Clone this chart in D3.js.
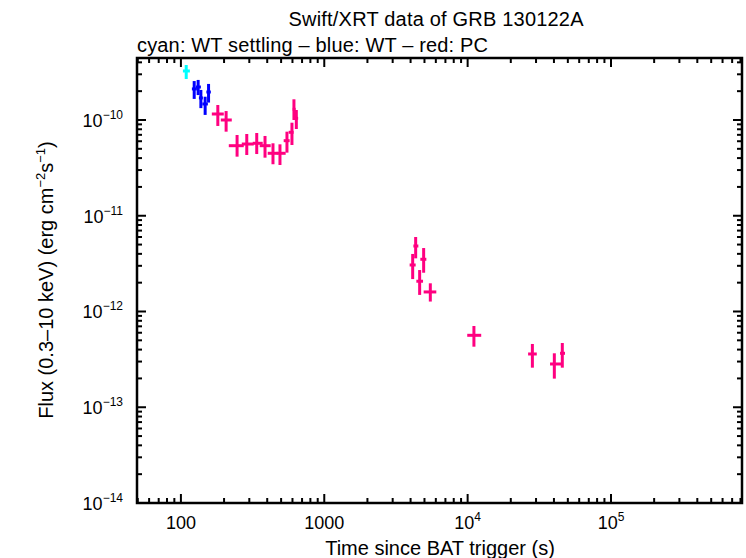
<!DOCTYPE html>
<html>
<head>
<meta charset="utf-8">
<script src="https://cdn.jsdelivr.net/npm/d3@7"></script>
<style>
  body { margin: 0; background: #fff; }
  text { font-family: "Liberation Sans", Arial, Helvetica, sans-serif; }
</style>
</head>
<body>
<svg width="746" height="558"></svg>
<script>
// data: [time, tLow, tHigh, flux, fLow, fHigh]
const wtSettling = [
  [108.9, 103.3, 115.5, 3.25e-10, 2.68e-10, 3.75e-10]
];
const wt = [
  [123.8, 119.3, 129.2, 2.11e-10, 1.66e-10, 2.55e-10],
  [131.9, 127.2, 137.8, 2.21e-10, 1.82e-10, 2.62e-10],
  [137.8, 133.5, 142.3, 1.70e-10, 1.33e-10, 2.06e-10],
  [147.6, 141.1, 154.2, 1.47e-10, 1.13e-10, 1.75e-10],
  [155.9, 150.5, 161.7, 1.96e-10, 1.52e-10, 2.38e-10]
];
const pc = [
  [180.9, 164.3, 199.1, 1.155e-10, 8.66e-11, 1.435e-10],
  [206.7, 189.8, 226.4, 1.0e-10, 7.55e-11, 1.24e-10],
  [246.5, 215.8, 274.4, 5.39e-11, 4.14e-11, 6.97e-11],
  [288.0, 265.8, 322.1, 5.61e-11, 4.31e-11, 7.14e-11],
  [338.0, 316.9, 372.1, 5.71e-11, 4.41e-11, 7.31e-11],
  [386.1, 354.6, 423.0, 5.39e-11, 4.04e-11, 6.81e-11],
  [438.8, 403.2, 473.2, 4.49e-11, 3.45e-11, 5.71e-11],
  [490.9, 465.6, 537.9, 4.49e-11, 3.39e-11, 5.57e-11],
  [549.2, 521.1, 573.5, 6.08e-11, 4.56e-11, 7.55e-11],
  [595.1, 564.4, 611.6, 7.44e-11, 5.48e-11, 9.37e-11],
  [614.4, 601.8, 631.4, 1.293e-10, 1.0e-10, 1.645e-10],
  [638.4, 621.3, 657.2, 1.042e-10, 8.05e-11, 1.272e-10],
  [4137, 3940, 4340, 3.06e-12, 2.18e-12, 3.99e-12],
  [4340, 4183, 4531, 4.83e-12, 3.59e-12, 6.0e-12],
  [4627, 4388, 4886, 2.07e-12, 1.49e-12, 2.71e-12],
  [4934, 4679, 5152, 3.51e-12, 2.54e-12, 4.60e-12],
  [5492, 4934, 6046, 1.60e-12, 1.27e-12, 1.97e-12],
  [11063, 9936, 12437, 5.64e-13, 4.29e-13, 7.06e-13],
  [28290, 26410, 30360, 3.60e-13, 2.59e-13, 4.58e-13],
  [40250, 37570, 44820, 2.83e-13, 1.99e-13, 3.66e-13],
  [45750, 44110, 47780, 3.66e-13, 2.59e-13, 4.69e-13]
];
const xTicks = [100, 1000, 1e4, 1e5];
const yTicks = [1e-10, 1e-11, 1e-12, 1e-13, 1e-14];

const svg = d3.select("svg");
const m = { left: 137, right: 742, top: 58, bottom: 503 };

const x = d3.scaleLog().domain([49.4, 8.2e5]).range([m.left, m.right]);
const y = d3.scaleLog().domain([1e-14, 4.44e-10]).range([m.bottom, m.top]);

// major + minor log ticks (1..9 per decade)
function minors(lo, hi) {
  const out = [];
  for (let e = Math.floor(Math.log10(lo)); e <= Math.ceil(Math.log10(hi)); e++) {
    for (let k = 1; k < 10; k++) {
      const v = k * Math.pow(10, e);
      if (v >= lo && v <= hi) out.push({ v, major: k === 1 });
    }
  }
  return out;
}

const g = svg.append("g");
const xt = minors(x.domain()[0], x.domain()[1]);
const yt = minors(y.domain()[0], y.domain()[1]);

xt.forEach(t => {
  const len = t.major ? 9 : 5;
  const px = x(t.v);
  g.append("line").attr("x1", px).attr("x2", px).attr("y1", m.bottom).attr("y2", m.bottom - len)
    .attr("stroke", "#000").attr("stroke-width", 2);
  g.append("line").attr("x1", px).attr("x2", px).attr("y1", m.top).attr("y2", m.top + len)
    .attr("stroke", "#000").attr("stroke-width", 2);
});
yt.forEach(t => {
  const len = t.major ? 9 : 5;
  const py = y(t.v);
  g.append("line").attr("x1", m.left).attr("x2", m.left + len).attr("y1", py).attr("y2", py)
    .attr("stroke", "#000").attr("stroke-width", 2);
  g.append("line").attr("x1", m.right).attr("x2", m.right - len).attr("y1", py).attr("y2", py)
    .attr("stroke", "#000").attr("stroke-width", 2);
});

g.append("rect").attr("x", m.left).attr("y", m.top)
  .attr("width", m.right - m.left).attr("height", m.bottom - m.top)
  .attr("fill", "none").attr("stroke", "#000").attr("stroke-width", 2.5);

// x tick labels
xTicks.forEach(v => {
  const e = Math.round(Math.log10(v));
  const t = svg.append("text").attr("x", x(v)).attr("y", 529)
    .attr("text-anchor", "middle").attr("font-size", 18);
  if (e <= 3) t.text(String(v));
  else {
    t.append("tspan").text("10");
    t.append("tspan").attr("dy", -8).attr("font-size", 12).text(e);
  }
});

// y tick labels
yTicks.forEach(v => {
  const e = Math.round(Math.log10(v));
  const t = svg.append("text").attr("x", 123).attr("y", y(v) + 7)
    .attr("text-anchor", "end").attr("font-size", 18);
  t.append("tspan").text("10");
  t.append("tspan").attr("dy", -8).attr("font-size", 12).text("\u2212" + (-e));
});

// titles
svg.append("text").attr("x", 436).attr("y", 26).attr("text-anchor", "middle")
  .attr("font-size", 20).attr("textLength", 295).text("Swift/XRT data of GRB 130122A");
svg.append("text").attr("x", 137).attr("y", 52).attr("font-size", 20).attr("textLength", 351)
  .text("cyan: WT settling \u2013 blue: WT \u2013 red: PC");
svg.append("text").attr("x", 440).attr("y", 555).attr("text-anchor", "middle")
  .attr("font-size", 20).text("Time since BAT trigger (s)");

const yl = svg.append("text").attr("transform", "translate(53,280) rotate(-90)")
  .attr("text-anchor", "middle").attr("font-size", 20);
yl.append("tspan").text("Flux (0.3\u201310 keV) (erg cm");
yl.append("tspan").attr("dy", -8).attr("font-size", 13).text("\u22122");
yl.append("tspan").attr("dy", 8).text("s");
yl.append("tspan").attr("dy", -8).attr("font-size", 13).text("\u22121");
yl.append("tspan").attr("dy", 8).text(")");

// error bar crosses
function drawSeries(data, color, w) {
  const s = svg.append("g").attr("stroke", color).attr("stroke-width", w);
  s.selectAll(".h").data(data).enter().append("line")
    .attr("x1", d => x(d[1])).attr("x2", d => x(d[2]))
    .attr("y1", d => y(d[3])).attr("y2", d => y(d[3]));
  s.selectAll(".v").data(data).enter().append("line")
    .attr("x1", d => x(d[0])).attr("x2", d => x(d[0]))
    .attr("y1", d => y(d[4])).attr("y2", d => y(d[5]));
}
drawSeries(wtSettling, "#00ffff", 3);
drawSeries(wt, "#0000ff", 3);
drawSeries(pc, "#ff0080", 3);
</script>
</body>
</html>
